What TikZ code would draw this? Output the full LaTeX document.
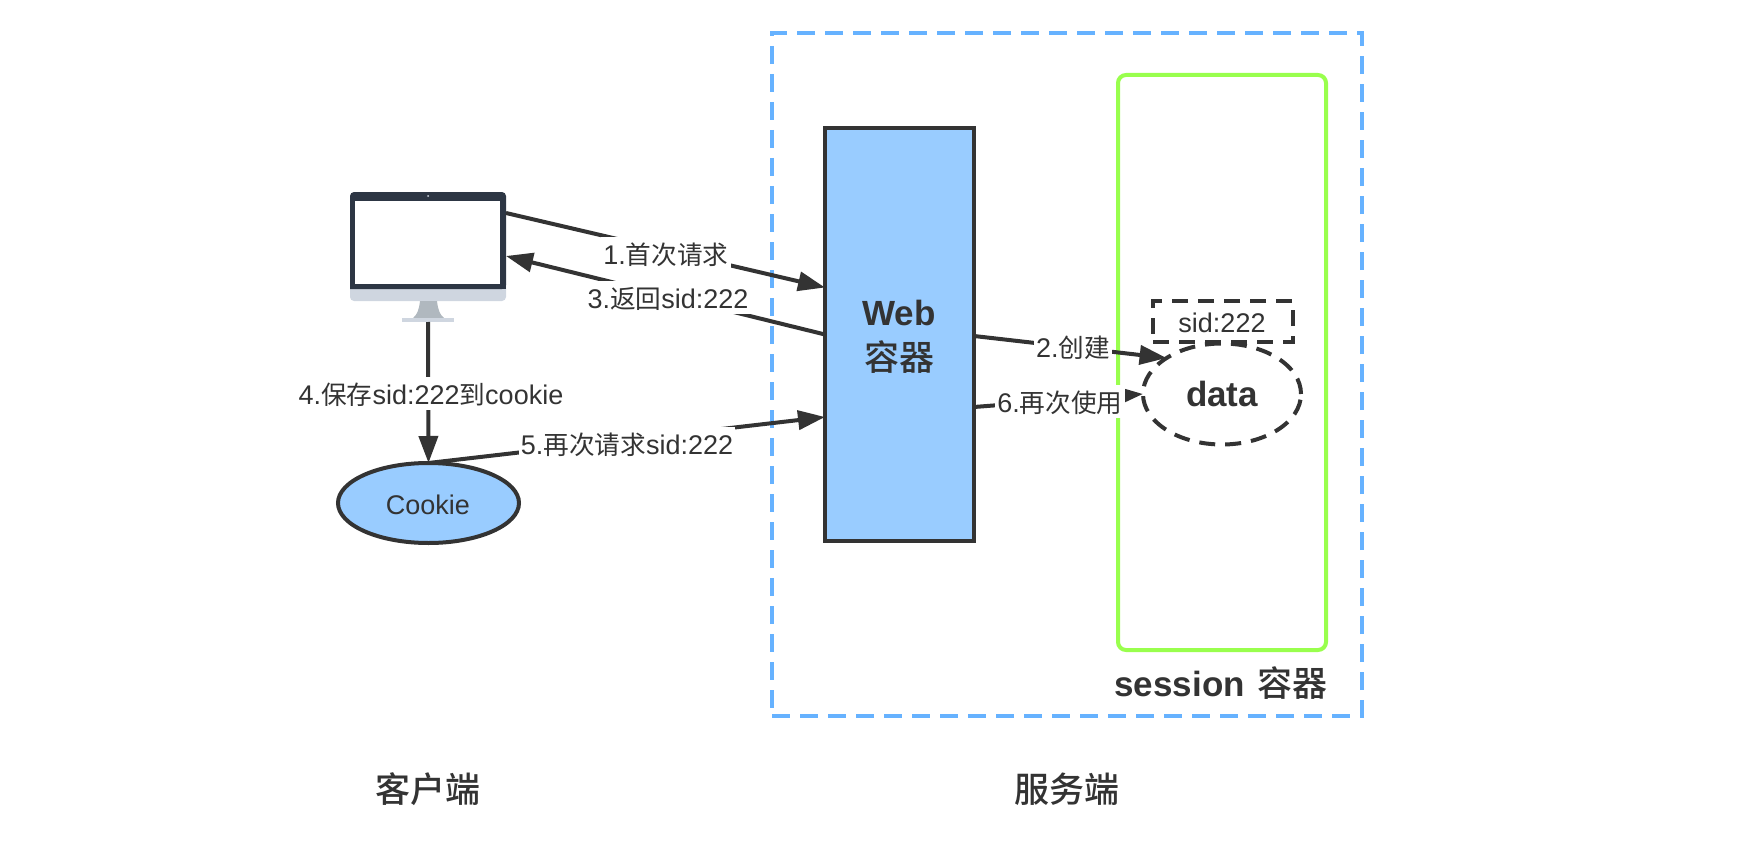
\documentclass[tikz,border=0pt]{standalone}
\usepackage{fontspec}
\setmainfont{Liberation Sans}
\newfontfamily\cjk[BoldFont={Noto Sans CJK SC Medium}]{Noto Sans CJK SC}
\newfontfamily\cjksmall[Scale=0.95]{Noto Sans CJK SC}
\usetikzlibrary{arrows.meta, shapes.geometric, positioning}
\definecolor{inkgrey}{HTML}{333333}
\definecolor{webblue}{HTML}{99CCFF}
\definecolor{dashblue}{HTML}{66B2FF}
\definecolor{sessgreen}{HTML}{99FF4D}
\definecolor{macdark}{HTML}{2D3644}
\definecolor{macchin}{HTML}{CFD6E0}
\definecolor{macstand}{HTML}{B0B8BF}

\begin{document}
\begin{tikzpicture}[
			x=1pt,
			y=-1pt,
			every node/.style={
					text=inkgrey,
					outer sep=0pt,
					inner sep=0pt
				},
			arrowline/.style={
					draw=inkgrey,
					line width=4pt,
					-{Triangle[length=27pt, width=19pt]}
				},
			lbl/.style={
					fill=white,
					inner xsep=2pt,
					inner ysep=3pt,
					font=\fontsize{27}{30}\selectfont,
					text height=24.5pt, % Height above the baseline
					text depth=2.5pt  % Depth below the baseline
				},
			bigtext/.style={
					font=\fontsize{35}{42}\selectfont\bfseries
				},
			dashbox/.style={
					draw=inkgrey,
					line width=4pt,
					dash pattern=on 16pt off 10pt
				}
		]
		\useasboundingbox (0, 0) rectangle (1738, 848);

		% server side frames
		\node[draw=dashblue, line width=4pt, dash pattern=on 18pt off 10pt, minimum width=590pt, minimum height=683pt] (server) at (1067, 374.5) {};
		\node[draw=sessgreen, line width=4pt, rounded corners=8pt, minimum width=208pt, minimum height=575pt] (session) at (1222, 362.5) {};
		\node[bigtext] (sessionlbl) at (1221, 683) {session\hspace{3pt} {\cjk 容器}};

		% monitor
		\node[minimum width=156pt, minimum height=130pt] (mac) at (428, 257) {};
		\fill[macchin, rounded corners=4pt] (350, 280) rectangle (506, 301);
		\fill[macdark, rounded corners=4pt] (350, 289) -- (350, 192) -- (506, 192) -- (506, 289) [sharp corners] -- cycle;
		\fill[macdark] (350, 270) rectangle (506, 289);
		\fill[white] (355, 201) rectangle (500, 284);
		\fill[macchin] (428, 196) circle (1pt);
		\fill[macstand] (420, 301) -- (437, 301) .. controls (438, 310) and (440, 315) .. (444, 318) -- (413, 318) .. controls (417, 315) and (419, 310) .. (420, 301) -- cycle;
		\fill[macchin] (402, 318) rectangle (454, 322);

		\node[draw=inkgrey, fill=webblue, line width=4pt, minimum width=149pt, minimum height=413pt] (web) at (899.5, 334.5) {};
		\node[bigtext, align=center] (weblbl) at (899, 337) {Web\\[3pt]{\cjk 容器}};

		\node[draw=inkgrey, fill=webblue, line width=4pt, ellipse, minimum width=181pt, minimum height=80pt] (cookie) at (428.5, 503) {};
		\node[font=\fontsize{27}{30}\selectfont] (cookielbl) at (428, 505) {Cookie};

		\node[dashbox, minimum width=140pt, minimum height=41pt] (sid) at (1223, 321.5) {};
		\node[font=\fontsize{27}{30}\selectfont] (sidlbl) at (1222, 323) {sid:222};
		\node[dashbox, fill=white, ellipse, minimum width=158pt, minimum height=101pt] (data) at (1222, 394) {};
		\node[bigtext] (datalbl) at (1222, 394) {data};

		% connectors
		\draw[arrowline] ([yshift=44pt]mac.east) -- ([yshift=47pt]web.west);
		\draw[arrowline] (web.west) -- ([yshift=1pt]mac.east);
		\draw[arrowline] (web.east) ++(0, 1.5) -- (data.147);
		\draw[arrowline] (mac.south) -- (cookie.north);
		\draw[arrowline] (cookie.north) -- ([yshift=-82.5pt]web.west);
		\draw[arrowline] ([yshift=-72.5pt]web.east) -- (data.west);

		% labels sit on top of the lines
		\node[lbl] (req) at (666, 253) {1.{\cjksmall 首次请求}};
		\node[lbl] (back) at (668, 297.5) {3.{\cjksmall 返回}sid:222};
		\node[lbl] (save) at (431, 393.5) {4.{\cjksmall 保存}sid:222{\cjksmall 到}cookie};
		\node[lbl] (again) at (627, 443.5) {5.{\cjksmall 再次请求}sid:222};
		\node[lbl] (create) at (1073, 346) {2.{\cjksmall 创建}};
		\node[lbl] (reuse) at (1060, 401.5) {6.{\cjksmall 再次使用}};

		\node[bigtext] (client) at (428, 789) {\cjk 客户端};
		\node[bigtext] (serverlbl) at (1067, 789) {\cjk 服务端};
	\end{tikzpicture}
\end{document}
